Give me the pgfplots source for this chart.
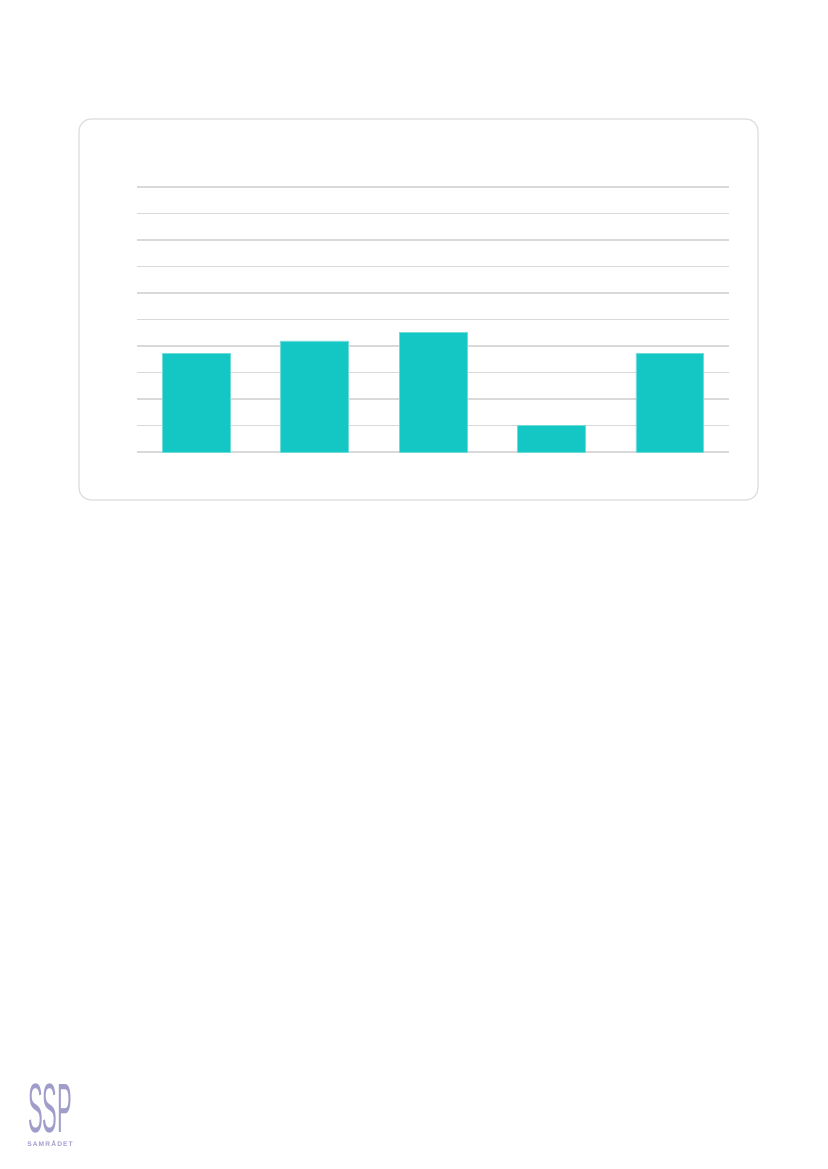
\documentclass[border=0pt]{standalone}
\usepackage{pgfplots}
\pgfplotsset{compat=1.18}
\usepackage{fontspec}
\setmainfont{Liberation Sans}
\definecolor{barteal}{HTML}{14C7C4}
\definecolor{baredge}{HTML}{6FDCD9}
\definecolor{gridgray}{HTML}{D9D9D9}
\definecolor{framegray}{HTML}{DDDDDD}
\definecolor{logo}{HTML}{A09DCB}
\begin{document}
% page is 827 x 1169 px = 620.25pt x 876.75pt (1px = 0.75pt)
\begin{tikzpicture}
  \useasboundingbox[fill=white] (0,0) rectangle (620.25pt,876.75pt);
  \draw[framegray, line width=0.9pt, rounded corners=9pt]
    (59.25pt,787.5pt) rectangle (568.5pt,501.75pt);
  \begin{axis}[
    at={(102.75pt,537.75pt)}, anchor=south west,
    scale only axis,
    width=444pt, height=198.75pt,
    xmin=-0.5, xmax=4.5,
    ymin=0, ymax=10,
    axis lines=none,
    xtick=\empty, ytick=\empty,
    ybar, bar width=50.8pt,
    clip=false,
  ]
    \pgfplotsinvokeforeach{0,...,10}{
      \draw[gridgray, line width=0.8pt] (axis cs:-0.5,#1) -- (axis cs:4.5,#1);
    }
    \addplot[fill=barteal, draw=baredge, line width=0.4pt]
      coordinates {(0,3.71)(1,4.19)(2,4.50)(3,0.99)(4,3.71)};
  \end{axis}
  % logo, bottom left
  \node[logo, anchor=south west, inner sep=0pt] at (21pt,27pt)
    {\raisebox{0pt}[\height][0pt]{\resizebox{33pt}{36.5pt}{SSP}}};
  \node[logo, anchor=south west, inner sep=0pt, font=\fontsize{5pt}{5pt}\selectfont\bfseries] at (20.25pt,17pt)
    {S\,A\,M\,R\,Å\,D\,E\,T};
\end{tikzpicture}
\end{document}
